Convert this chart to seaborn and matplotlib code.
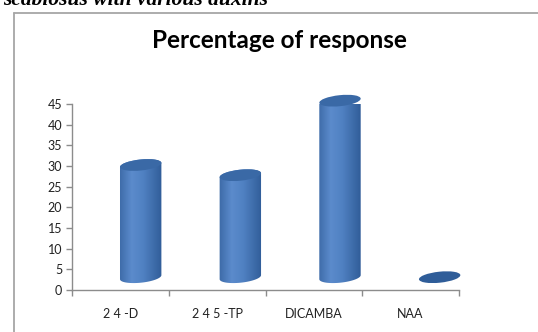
import numpy as np
import matplotlib
matplotlib.use("Agg")
import matplotlib.pyplot as plt
from matplotlib.patches import Ellipse, PathPatch
from matplotlib.path import Path
from matplotlib.colors import LinearSegmentedColormap
from matplotlib.lines import Line2D
import matplotlib.transforms as mtransforms
import seaborn as sns

# Data
categories = ["2 4 -D", "2 4 5 -TP", "DICAMBA", "NAA"]
response = [28.6, 26.0, 45.0, 0.0]
y_ticks = [0, 5, 10, 15, 20, 25, 30, 35, 40, 45]

# 3-D look: the bars stand on a floor in front of the back wall
floor = 3.1          # floor height seen against the wall axis
front_scale = 0.949  # front plane is slightly smaller than the wall
depth_shift = 0.21   # sideways shift of the front plane (category units)
persp = 0.03         # extra shift per category (perspective)
bar_w = 0.43
cap_h_px = 11        # height of the elliptical end caps
cap_angle = np.deg2rad(6)

sns.set_theme(style="white")
plt.rcParams["font.family"] = ["Lato", "DejaVu Sans"]

W, H = 538, 332
DPI = 100
fig = plt.figure(figsize=(W / DPI, H / DPI), dpi=DPI)
fig.patch.set_facecolor("white")

# caption from the surrounding text, cut at the top edge
fig.text(3 / W, 1 - 5 / H, "scabiosus with various auxins",
         family=["Liberation Serif"], weight="bold", style="italic",
         fontsize=15.5, va="baseline", ha="left", color="black")

# chart frame
frame_kw = dict(color="#a6a6a6", lw=1.3, transform=fig.transFigure)
fig.add_artist(Line2D([14 / W, 14 / W], [0, 1 - 12.5 / H], **frame_kw))
fig.add_artist(Line2D([14 / W, 1], [1 - 12.5 / H, 1 - 12.5 / H], **frame_kw))

fig.text(279 / W, 1 - 40 / H, "Percentage of response", ha="center", va="center",
         fontsize=17.5, weight="bold", color="black")

ax = fig.add_axes([72 / W, 42 / H, 387 / W, 186 / H])
ax.set_facecolor("none")

heights = [v * front_scale for v in response]
sns.barplot(x=categories, y=heights, bottom=floor, color="#4f81bd",
            width=bar_w, errorbar=None, ax=ax, zorder=3)

ax.set_xlim(-0.5, 3.5)
ax.set_ylim(0, 45)
ax.set_yticks(y_ticks)
ax.set_xticks(range(len(categories)))
ax.set_xticklabels(categories)
ax.set_xticks(np.arange(-0.5, len(categories), 1.0), minor=True)
ax.set_xlabel("")
ax.set_ylabel("")

for s in ["top", "right"]:
    ax.spines[s].set_visible(False)
for s in ["left", "bottom"]:
    ax.spines[s].set_color("#8c8c8c")
    ax.spines[s].set_linewidth(1.0)

ax.tick_params(axis="y", which="major", direction="out", length=4, width=1,
               color="#8c8c8c", labelsize=9, labelcolor="#222222", pad=3, left=True)
ax.tick_params(axis="x", which="major", length=0, labelsize=9,
               labelcolor="#222222", pad=13)
ax.tick_params(axis="x", which="minor", direction="out", length=4, width=1,
               color="#8c8c8c", bottom=True)

body_cmap = LinearSegmentedColormap.from_list(
    "cyl", [(0.0, "#3a67a3"), (0.3, "#5b8bcc"), (0.55, "#5081c2"), (1.0, "#2d5994")])
grad = np.linspace(0, 1, 256)[None, :]


def ellipse_arc(a, b, th, t):
    x = a * np.cos(t) * np.cos(th) - b * np.sin(t) * np.sin(th)
    y = a * np.cos(t) * np.sin(th) + b * np.sin(t) * np.cos(th)
    return x, y


for i, patch in enumerate(ax.patches):
    shift = depth_shift + persp * i
    patch.set_x(patch.get_x() + shift)
    x0 = patch.get_x()
    w = patch.get_width()
    xc = x0 + w / 2
    y0 = patch.get_y()
    y1 = y0 + patch.get_height()
    patch.set_visible(False)

    # geometry of the cylinder in pixels
    pl = ax.transData.transform((x0, y0))
    pr = ax.transData.transform((x0 + w, y0))
    pt = ax.transData.transform((xc, y1))
    a = (pr[0] - pl[0]) / 2
    b = cap_h_px / 2
    cx, yb, yt = (pl[0] + pr[0]) / 2, pl[1], pt[1]

    if patch.get_height() > 0:
        t_r = np.arctan2(-b * np.sin(cap_angle), a * np.cos(cap_angle))
        tb = np.linspace(t_r - np.pi, t_r, 60)
        tt = np.linspace(t_r, t_r + np.pi, 60)
        bx, by = ellipse_arc(a, b, cap_angle, tb)
        tx, ty = ellipse_arc(a, b, cap_angle, tt)
        xs = np.concatenate([cx + bx, cx + tx]) / DPI
        ys = np.concatenate([yb + by, yt + ty]) / DPI
        verts = np.column_stack([xs, ys])
        verts = np.vstack([verts, verts[:1]])
        codes = [Path.MOVETO] + [Path.LINETO] * (len(verts) - 2) + [Path.CLOSEPOLY]
        body = PathPatch(Path(verts, codes), facecolor="none", edgecolor="none",
                         transform=fig.dpi_scale_trans, zorder=3)
        ax.add_patch(body)
        body.set_clip_on(False)
        im = ax.imshow(grad, cmap=body_cmap, aspect="auto",
                       extent=(x0 - 0.02, x0 + w + 0.02, y0 - 3, y1 + 3), zorder=3.1)
        im.set_clip_path(body)
        im.set_clip_box(None)
        cap_color = "#3a69a6"
    else:
        cap_color = "#2f5d99"

    top = Ellipse((0, 0), 2 * a / DPI, 2 * b / DPI, angle=np.rad2deg(cap_angle),
                  transform=fig.dpi_scale_trans
                  + mtransforms.ScaledTranslation(xc, y1, ax.transData),
                  facecolor=cap_color, edgecolor="none", zorder=3.3)
    ax.add_patch(top)
    top.set_clip_on(False)

ax.set_xlim(-0.5, 3.5)
ax.set_ylim(0, 45)

fig.savefig("out.png", dpi=DPI, facecolor="white")
